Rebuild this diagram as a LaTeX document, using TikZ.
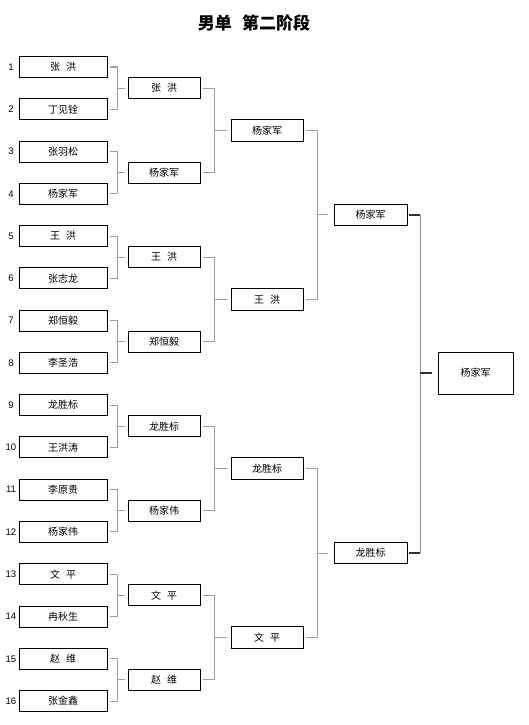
\documentclass[tikz,border=0pt]{standalone}
\usepackage{fontspec}
\setmainfont{Liberation Sans}
\newfontfamily\cjk{Noto Sans CJK SC}
\newcommand\gp{\hspace{0.6em}}
\begin{document}
\begin{tikzpicture}[x=1pt,y=-1pt,
  box/.style={draw=black,line width=0.9pt,inner sep=0pt,minimum height=21pt,font=\cjk\fontsize{10}{12}\selectfont},
  num/.style={inner sep=0pt,font=\fontsize{9.5}{10}\selectfont},
  br/.style={draw=black!38,line width=1pt},
  brd/.style={draw=black!45,line width=1.5pt},
  stub/.style={draw=black!80,line width=2pt}]
\useasboundingbox (0,0) rectangle (528,725);
\fill[white] (0,0) rectangle (528,725);
\node[font=\cjk\bfseries\fontsize{17}{20}\selectfont] (title) at (254,23) {男单\hspace{0.6em}第二阶段};
% round 1
\foreach \n [count=\i] in {张\gp 洪,丁见铨,张羽松,杨家军,王\gp 洪,张志龙,郑恒毅,李圣浩,龙胜标,王洪涛,李原贵,杨家伟,文\gp 平,冉秋生,赵\gp 维,张金鑫}{
  \pgfmathsetmacro\yy{67+42.27*(\i-1)}
  \node[box,minimum width=88pt] (a\i) at (63,\yy) {\n};
  \node[num] (n\i) at (11,\yy) {\i};
}
% round 2
\foreach \n [count=\i] in {张\gp 洪,杨家军,王\gp 洪,郑恒毅,龙胜标,杨家伟,文\gp 平,赵\gp 维}{
  \pgfmathsetmacro\yy{67+42.27*(2*\i-1.5)}
  \node[box,minimum width=72pt] (b\i) at (164,\yy) {\n};
}
% round 3
\foreach \n [count=\i] in {杨家军,王\gp 洪,龙胜标,文\gp 平}{
  \pgfmathsetmacro\yy{67+42.27*(4*\i-2.5)}
  \node[box,minimum width=72pt,minimum height=22pt] (c\i) at (267,\yy) {\n};
}
% round 4
\foreach \n [count=\i] in {杨家军,龙胜标}{
  \pgfmathsetmacro\yy{67+42.27*(8*\i-4.5)}
  \node[box,minimum width=73pt] (d\i) at (370.5,\yy) {\n};
}
% final
\node[box,minimum width=75pt,minimum height=42pt] (f) at (475.5,373) {杨家军};
% brackets round 1 -> 2
\foreach \k in {1,...,8}{
  \pgfmathtruncatemacro\ia{2*\k-1}
  \pgfmathtruncatemacro\ib{2*\k}
  \draw[br] ([xshift=3pt]a\ia.east) -- ([xshift=10pt]a\ia.east) |- ([xshift=3pt]a\ib.east);
  \draw[br] ([xshift=-3pt]b\k.west) -- ([xshift=-11pt]b\k.west);
}
% round 2 -> 3
\foreach \k in {1,...,4}{
  \pgfmathtruncatemacro\ia{2*\k-1}
  \pgfmathtruncatemacro\ib{2*\k}
  \draw[br] ([xshift=3pt]b\ia.east) -- ([xshift=14pt]b\ia.east) |- ([xshift=3pt]b\ib.east);
  \draw[br] ([xshift=-4pt]c\k.west) -- ([xshift=-17pt]c\k.west);
}
% round 3 -> 4
\foreach \k in {1,2}{
  \pgfmathtruncatemacro\ia{2*\k-1}
  \pgfmathtruncatemacro\ib{2*\k}
  \draw[br] ([xshift=3pt]c\ia.east) -- ([xshift=14pt]c\ia.east) |- ([xshift=3pt]c\ib.east);
  \draw[br] ([xshift=-6pt]d\k.west) -- ([xshift=-17pt]d\k.west);
}
% round 4 -> final
\draw[brd] ([xshift=13pt]d1.east) -- ([xshift=13pt]d2.east);
\draw[stub] ([xshift=2pt]d1.east) -- ([xshift=13pt]d1.east);
\draw[stub] ([xshift=2pt]d2.east) -- ([xshift=13pt]d2.east);
\draw[stub] ([xshift=-6pt]f.west) -- ([xshift=-18pt]f.west);
\end{tikzpicture}
\end{document}
